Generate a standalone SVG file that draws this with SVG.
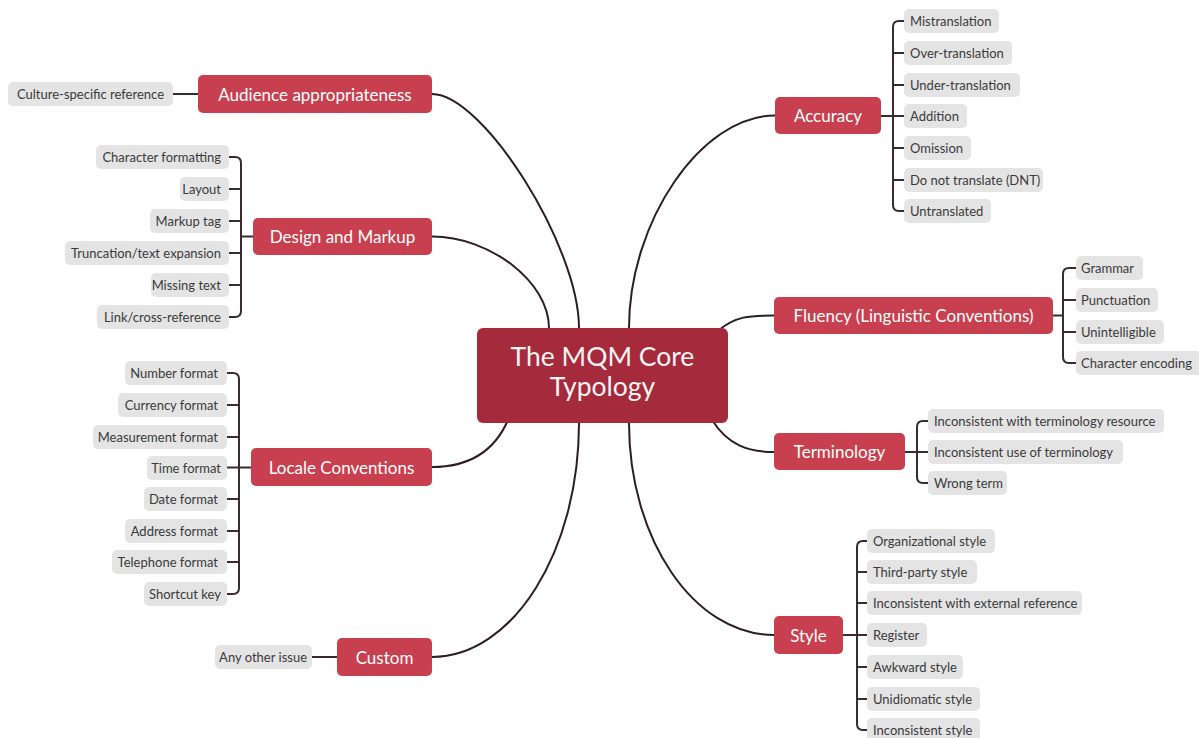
<svg xmlns="http://www.w3.org/2000/svg" width="1199" height="738" viewBox="0 0 1199 738">
<style>
.c{fill:none;stroke:#2e1d22;stroke-width:2;stroke-linecap:round}
.b{fill:none;stroke:#3b2a2f;stroke-width:2}
.m rect{fill:#c8404f}
.m text{fill:#ffffff;font-family:Lato,"Open Sans","Liberation Sans",sans-serif;font-size:17px;dominant-baseline:central;text-anchor:middle}
.ctr rect{fill:#a52a3c}
.ctr text{fill:#fbf4f4;font-family:Lato,"Open Sans","Liberation Sans",sans-serif;font-size:26.5px;text-anchor:middle}
.l rect{fill:#e4e4e4}
.l text{fill:#3a3a3a;font-family:Lato,"Open Sans","Liberation Sans",sans-serif;font-size:13px;dominant-baseline:central}
.r text{text-anchor:start}
.lf text{text-anchor:end}
</style>
<rect width="1199" height="738" fill="#ffffff"/>
<g id="connectors">
<path class="c" d="M432,94 C483,94 579,246 579,328"/>
<path class="c" d="M432,236.5 C490,236.5 549,282 549,328"/>
<path class="c" d="M775,115.5 C701,115.5 629,222 629,328"/>
<path class="c" d="M718,331 C735,316 750,315.5 774,315.5"/>
<path class="c" d="M712,420 C728,445 748,452 774,452"/>
<path class="c" d="M508,420 C495,450 470,467 432,467"/>
<path class="c" d="M579,423 C579,551 513,657 432,657"/>
<path class="c" d="M629,423 C629,539 694,635 774,635"/>
<path class="b" d="M173,94 H198"/>
<path class="b" d="M312,657 H337"/>
<path class="b" d="M229,157 H235 Q241,157 241,163 V311 Q241,317 235,317 H229 M229,189 H241 M229,221 H241 M229,253 H241 M229,285 H241 M241,236.5 H253"/>
<path class="b" d="M227,373 H233 Q239,373 239,379 V588 Q239,594 233,594 H227 M227,405 H239 M227,437 H239 M227,467.5 H251 M227,499 H239 M227,531 H239 M227,562 H239"/>
<path class="b" d="M904,21 H899 Q893,21 893,27 V205 Q893,211 899,211 H904 M904,53 H893 M904,85 H893 M881,116 H904 M904,148 H893 M904,180 H893"/>
<path class="b" d="M1076,268 H1069 Q1063,268 1063,274 V357 Q1063,363 1069,363 H1076 M1076,300 H1063 M1076,332 H1063 M1053,315.5 H1063"/>
<path class="b" d="M928,421 H923 Q917,421 917,427 V477 Q917,483 923,483 H928 M905,452 H928"/>
<path class="b" d="M867,541 H863 Q857,541 857,547 V724 Q857,730 863,730 H867 M867,572 H857 M867,603 H857 M843,635 H867 M867,667 H857 M867,699 H857"/>
</g>
<g id="center" class="ctr"><rect x="477" y="328" width="251" height="95" rx="6"/><text x="602.5" y="366">The MQM Core</text><text x="602.5" y="396">Typology</text></g>
<g id="audience" class="m"><rect x="198" y="75" width="234" height="38" rx="5"/><text x="315" y="94">Audience appropriateness</text></g>
<g id="design" class="m"><rect x="253" y="218" width="179" height="37" rx="5"/><text x="342.5" y="236.5">Design and Markup</text></g>
<g id="locale" class="m"><rect x="251" y="448" width="181" height="38" rx="5"/><text x="341.5" y="467">Locale Conventions</text></g>
<g id="custom" class="m"><rect x="337" y="638" width="95" height="38" rx="5"/><text x="384.5" y="657">Custom</text></g>
<g id="accuracy" class="m"><rect x="775" y="97" width="106" height="37" rx="5"/><text x="828" y="115.5">Accuracy</text></g>
<g id="fluency" class="m"><rect x="774" y="297" width="279" height="37" rx="5"/><text x="913.5" y="315.5">Fluency (Linguistic Conventions)</text></g>
<g id="terminology" class="m"><rect x="774" y="433" width="131" height="37" rx="5"/><text x="839.5" y="451.5">Terminology</text></g>
<g id="style" class="m"><rect x="774" y="616" width="69" height="38" rx="5"/><text x="808.5" y="635">Style</text></g>
<g id="culture" class="l lf"><rect x="8" y="82" width="165" height="24" rx="5"/><text x="164" y="94">Culture-specific reference</text></g>
<g id="charfmt" class="l lf"><rect x="96" y="145" width="133" height="24" rx="5"/><text x="221" y="157">Character formatting</text></g>
<g id="layout" class="l lf"><rect x="180" y="177" width="49" height="24" rx="5"/><text x="221" y="189">Layout</text></g>
<g id="markup" class="l lf"><rect x="150" y="209" width="79" height="24" rx="5"/><text x="221" y="221">Markup tag</text></g>
<g id="truncation" class="l lf"><rect x="65" y="241" width="164" height="24" rx="5"/><text x="221" y="253">Truncation/text expansion</text></g>
<g id="missing" class="l lf"><rect x="151" y="273" width="78" height="24" rx="5"/><text x="221" y="285">Missing text</text></g>
<g id="link" class="l lf"><rect x="97" y="305" width="132" height="24" rx="5"/><text x="221" y="317">Link/cross-reference</text></g>
<g id="number" class="l lf"><rect x="125" y="361" width="102" height="24" rx="5"/><text x="218" y="373">Number format</text></g>
<g id="currency" class="l lf"><rect x="118" y="393" width="109" height="24" rx="5"/><text x="218" y="405">Currency format</text></g>
<g id="measurement" class="l lf"><rect x="93" y="425" width="134" height="24" rx="5"/><text x="218" y="437">Measurement format</text></g>
<g id="time" class="l lf"><rect x="147" y="456" width="80" height="24" rx="5"/><text x="221" y="468">Time format</text></g>
<g id="date" class="l lf"><rect x="144" y="487" width="83" height="24" rx="5"/><text x="218" y="499">Date format</text></g>
<g id="address" class="l lf"><rect x="125" y="519" width="102" height="24" rx="5"/><text x="218" y="531">Address format</text></g>
<g id="telephone" class="l lf"><rect x="112" y="550" width="115" height="24" rx="5"/><text x="218" y="562">Telephone format</text></g>
<g id="shortcut" class="l lf"><rect x="144" y="582" width="83" height="24" rx="5"/><text x="221" y="594">Shortcut key</text></g>
<g id="other" class="l lf"><rect x="215" y="645" width="97" height="24" rx="5"/><text x="307" y="657">Any other issue</text></g>
<g id="mistranslation" class="l r"><rect x="904" y="9" width="95" height="24" rx="5"/><text x="910" y="21">Mistranslation</text></g>
<g id="over" class="l r"><rect x="904" y="41" width="108" height="24" rx="5"/><text x="910" y="53">Over-translation</text></g>
<g id="under" class="l r"><rect x="904" y="73" width="116" height="24" rx="5"/><text x="910" y="85">Under-translation</text></g>
<g id="addition" class="l r"><rect x="904" y="104" width="63" height="24" rx="5"/><text x="910" y="116">Addition</text></g>
<g id="omission" class="l r"><rect x="904" y="136" width="67" height="24" rx="5"/><text x="910" y="148">Omission</text></g>
<g id="dnt" class="l r"><rect x="904" y="168" width="139" height="24" rx="5"/><text x="910" y="180">Do not translate (DNT)</text></g>
<g id="untranslated" class="l r"><rect x="904" y="199" width="87" height="24" rx="5"/><text x="910" y="211">Untranslated</text></g>
<g id="grammar" class="l r"><rect x="1076" y="256" width="67" height="24" rx="5"/><text x="1081" y="268">Grammar</text></g>
<g id="punctuation" class="l r"><rect x="1076" y="288" width="82" height="24" rx="5"/><text x="1081" y="300">Punctuation</text></g>
<g id="unintelligible" class="l r"><rect x="1076" y="320" width="88" height="24" rx="5"/><text x="1081" y="332">Unintelligible</text></g>
<g id="encoding" class="l r"><rect x="1076" y="351" width="126" height="24" rx="5"/><text x="1081" y="363">Character encoding</text></g>
<g id="termres" class="l r"><rect x="928" y="409" width="236" height="24" rx="5"/><text x="934" y="421">Inconsistent with terminology resource</text></g>
<g id="termuse" class="l r"><rect x="928" y="440" width="195" height="24" rx="5"/><text x="934" y="452">Inconsistent use of terminology</text></g>
<g id="wrongterm" class="l r"><rect x="928" y="471" width="79" height="24" rx="5"/><text x="934" y="483">Wrong term</text></g>
<g id="orgstyle" class="l r"><rect x="867" y="529" width="128" height="24" rx="5"/><text x="873" y="541">Organizational style</text></g>
<g id="thirdparty" class="l r"><rect x="867" y="560" width="110" height="24" rx="5"/><text x="873" y="572">Third-party style</text></g>
<g id="extref" class="l r"><rect x="867" y="591" width="215" height="24" rx="5"/><text x="873" y="603">Inconsistent with external reference</text></g>
<g id="register" class="l r"><rect x="867" y="623" width="60" height="24" rx="5"/><text x="873" y="635">Register</text></g>
<g id="awkward" class="l r"><rect x="867" y="655" width="96" height="24" rx="5"/><text x="873" y="667">Awkward style</text></g>
<g id="unidiomatic" class="l r"><rect x="867" y="687" width="113" height="24" rx="5"/><text x="873" y="699">Unidiomatic style</text></g>
<g id="inconsistent" class="l r"><rect x="867" y="718" width="113" height="24" rx="5"/><text x="873" y="730">Inconsistent style</text></g>
</svg>
